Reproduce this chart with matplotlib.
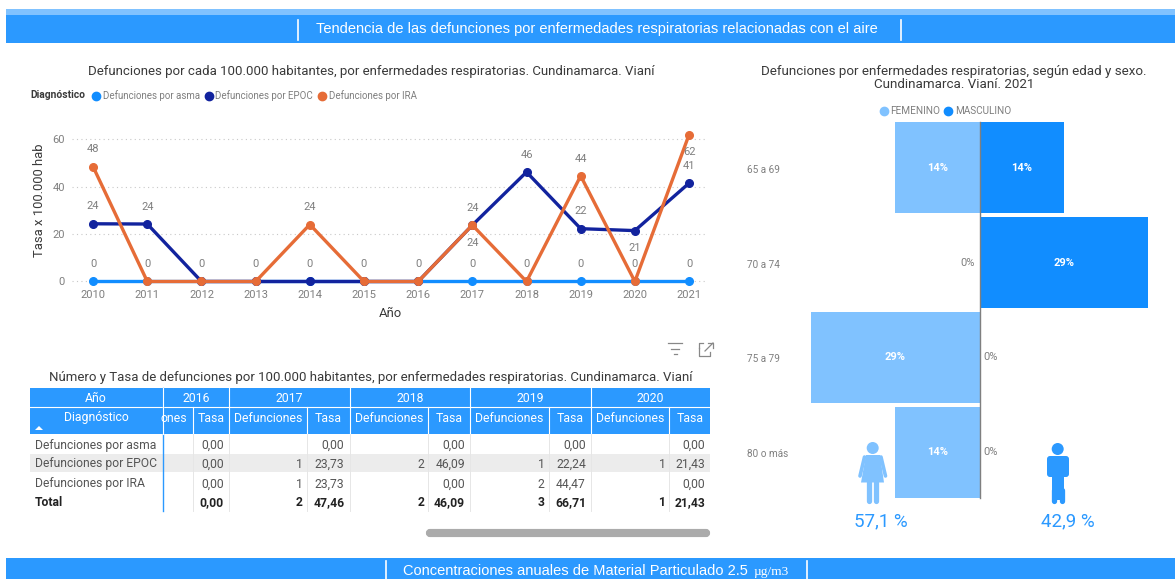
import matplotlib
matplotlib.use("Agg")
import matplotlib.pyplot as plt
from matplotlib.patches import Rectangle, Circle, Polygon, FancyBboxPatch

plt.rcParams['font.family'] = ['Roboto', 'DejaVu Sans']

W, H = 1175, 579

# data
years = [2010, 2011, 2012, 2013, 2014, 2015, 2016, 2017, 2018, 2019, 2020, 2021]
asma = [0, 0, 0, 0, 0, 0, 0, 0, 0, 0, 0, 0]
epoc = [24.3, 24.2, 0, 0, 0, 0, 0, 23.73, 46.09, 22.24, 21.43, 41.4]
ira = [48.3, 0, 0, 0, 24, 0, 0, 23.73, 0, 44.47, 0, 61.8]

ages = ["65 a 69", "70 a 74", "75 a 79", "80 o más"]
femenino = [14.3, 0, 28.6, 14.3]
masculino = [14.3, 28.6, 0, 0]
pct_fem = "57,1 %"
pct_masc = "42,9 %"

table_years = ["2016", "2017", "2018", "2019", "2020"]
table_rows = ["Defunciones por asma", "Defunciones por EPOC", "Defunciones por IRA", "Total"]
table_def = [["", "", "", "", ""],
             ["", "1", "2", "1", "1"],
             ["", "1", "", "2", ""],
             ["", "2", "2", "3", "1"]]
table_tasa = [["0,00", "0,00", "0,00", "0,00", "0,00"],
              ["0,00", "23,73", "46,09", "22,24", "21,43"],
              ["0,00", "23,73", "0,00", "44,47", "0,00"],
              ["0,00", "47,46", "46,09", "66,71", "21,43"]]

BLUE = "#2B99FF"
LIGHT = "#80C2FF"
MASC = "#118DFF"
C_ASMA = "#118DFF"
C_EPOC = "#12239E"
C_IRA = "#E66C37"
GREY = "#7f7f7f"
DARK = "#3a3a3a"


def axes_px(fig, left, top, right, bottom):
    return fig.add_axes([left / W, 1 - bottom / H, (right - left) / W, (bottom - top) / H])


fig = plt.figure(figsize=(W / 100, H / 100), dpi=100)

# pixel overlay for banners, table and icons
bg = fig.add_axes([0, 0, 1, 1], zorder=0)
bg.set_xlim(0, W)
bg.set_ylim(H, 0)
bg.axis("off")

over = fig.add_axes([0, 0, 1, 1], zorder=5)
over.set_xlim(0, W)
over.set_ylim(H, 0)
over.axis("off")
over.patch.set_alpha(0)

# banners
bg.add_patch(Rectangle((6, 9), W - 6, 6, color=LIGHT, lw=0))
bg.add_patch(Rectangle((6, 15), W - 6, 28, color=BLUE, lw=0))
bg.plot([298, 298], [20, 40], color="white", lw=1.2)
bg.plot([901, 901], [20, 40], color="white", lw=1.2)
bg.text(597, 29, "Tendencia de las defunciones por enfermedades respiratorias relacionadas con el aire",
        color="white", fontsize=10.5, family="Liberation Sans", ha="center", va="center")
bg.add_patch(Rectangle((6, 558), W - 6, 21, color=BLUE, lw=0))
bg.plot([386, 386], [561, 579], color="white", lw=1.2)
bg.plot([807, 807], [561, 579], color="white", lw=1.2)
bg.text(403, 571, "Concentraciones anuales de Material Particulado 2.5", color="white",
        fontsize=10.5, family="Liberation Sans", ha="left", va="center")
bg.text(754, 572, "µg/m3", color="white", fontsize=9.6, family="Liberation Serif", ha="left", va="center")

# line chart
ax = axes_px(fig, 72, 125, 708, 288)
ax.plot(years, asma, color=C_ASMA, lw=2.4, marker="o", ms=5.5, clip_on=False, zorder=3)
ax.plot(years, epoc, color=C_EPOC, lw=2.4, marker="o", ms=5.5, clip_on=False, zorder=4)
ax.plot(years, ira, color=C_IRA, lw=2.4, marker="o", ms=5.5, clip_on=False, zorder=5)
ax.set_xlim(2009.61, 2021.35)
ax.set_ylim(-2.74, 65.9)
ax.set_xticks(years)
ax.set_yticks([0, 20, 40, 60])
ax.tick_params(length=0, labelsize=8, labelcolor=GREY)
ax.tick_params(axis="x", pad=1.5)
ax.tick_params(axis="y", pad=5)
ax.grid(axis="y", color="#c8c8c8", lw=0.8, ls=(0, (1, 3)))
ax.set_axisbelow(True)
for s in ax.spines.values():
    s.set_visible(False)
ax.set_xlabel("Año", fontsize=9.4, color=DARK, labelpad=5)
ax.set_ylabel("Tasa x 100.000 hab", fontsize=9.4, color=DARK, labelpad=4.5, y=0.537)

for x, v in zip(years, asma):
    ax.annotate(f"{v:.0f}", (x, v), xytext=(0, 12.5), textcoords="offset points",
                ha="center", va="center", fontsize=8, color=GREY, zorder=6)
# labels above (+) or below (-) the point
epoc_side = {2010: 1, 2011: 1, 2017: 1, 2018: 1, 2019: 1, 2020: -1, 2021: 1}
ira_side = {2010: 1, 2014: 1, 2017: -1, 2019: 1, 2021: -1}
for series, side in ((epoc, epoc_side), (ira, ira_side)):
    for x, v in zip(years, series):
        if x in side:
            ax.annotate(f"{v:.0f}", (x, v), xytext=(0, 12.5 * side[x]), textcoords="offset points",
                        ha="center", va="center", fontsize=8, color=GREY, zorder=6)

bg.text(371, 71, "Defunciones por cada 100.000 habitantes, por enfermedades respiratorias. Cundinamarca. Vianí",
        fontsize=9.5, color=DARK, ha="center", va="center")
bg.text(30, 95.5, "Diagnóstico", fontsize=7.4, color=DARK, weight="bold", ha="left", va="center")
for cx, tx, c, lab in ((96, 103, C_ASMA, "Defunciones por asma"),
                       (209, 215, C_EPOC, "Defunciones por EPOC"),
                       (322, 329, C_IRA, "Defunciones por IRA")):
    bg.plot([cx], [95.5], "o", color=c, ms=6)
    bg.text(tx, 95.5, lab, fontsize=7, color=GREY, ha="left", va="center")

# icons above the table
for y, x0, x1 in ((343, 668, 682), (348.5, 671, 679), (354, 673.5, 676.5)):
    bg.plot([x0, x1], [y, y], color="#888888", lw=0.9)
bg.plot([699, 699, 710, 710], [348, 356, 356, 352], color="#888888", lw=0.9)
bg.plot([699, 699, 703], [348, 343, 343], color="#888888", lw=0.9)
bg.plot([708, 713, 713], [343, 343, 348], color="#888888", lw=0.9)
bg.plot([705, 713], [351, 343], color="#888888", lw=0.9)

# table
bg.text(370.5, 377, "Número y Tasa de defunciones por 100.000 habitantes, por enfermedades respiratorias. Cundinamarca. Vianí",
        fontsize=9.5, color=DARK, ha="center", va="center")
col_left = [163, 229, 349.5, 470, 591]
col_tasa = [192.5, 306.7, 428, 548.7, 669.4]
col_right = [229, 349.5, 470, 591, 710]
row_y = [445, 464, 484, 503]

bg.add_patch(Rectangle((30, 388), 680, 46, color=BLUE, lw=0))
bg.add_patch(Rectangle((30, 454), 680, 18, color="#ececec", lw=0))
bg.plot([30, 710], [407, 407], color="white", lw=0.8)
bg.plot([163, 163], [388, 511], color=BLUE, lw=1.0)
bg.text(96, 398, "Año", color="white", fontsize=8.8, ha="center", va="center")
bg.text(96, 418, "Diagnóstico", color="white", fontsize=8.8, ha="center", va="center")
bg.add_patch(Polygon([[35, 430], [43, 430], [39, 426]], color="white", lw=0))

for i, yr in enumerate(table_years):
    l, t, r = col_left[i], col_tasa[i], col_right[i]
    bg.plot([l, l], [388, 434], color="white", lw=0.8)
    bg.plot([t, t], [407, 434], color="white", lw=0.8)
    bg.plot([t, t], [434, 511], color="#e6e6e6", lw=0.7)
    if i > 0:
        bg.plot([l, l], [434, 511], color="#e6e6e6", lw=0.7)
    bg.text((l + r) / 2, 398, yr, color="white", fontsize=8.8, ha="center", va="center")
    bg.text((t + r) / 2, 418, "Tasa", color="white", fontsize=8.8, ha="center", va="center")
    if i > 0:
        bg.text((l + t) / 2, 418, "Defunciones", color="white", fontsize=8.8, ha="center", va="center")
# clipped header of the 2016 column
bg.text(187, 418, "ones", color="white", fontsize=8.8, ha="right", va="center")

for j, name in enumerate(table_rows):
    bold = name == "Total"
    w = "bold" if bold else "normal"
    c = "#222222" if bold else "#555555"
    bg.text(35, row_y[j], name, fontsize=8.7, color=c, weight=w, ha="left", va="center")
    for i in range(len(table_years)):
        bg.text(col_right[i] - 5, row_y[j], table_tasa[j][i], fontsize=8.7, color=c, weight=w, ha="right", va="center")
        bg.text(col_tasa[i] - 4, row_y[j], table_def[j][i], fontsize=8.7, color=c, weight=w, ha="right", va="center")

bg.add_patch(FancyBboxPatch((428, 531), 280, 4, boxstyle="round,pad=0,rounding_size=2", mutation_aspect=1,
                            ec="#ababab", fc="#ababab", lw=3))

# pyramid
ax2 = axes_px(fig, 740, 120.5, 1175, 499.5)
pos = list(range(len(ages)))
ax2.barh(pos, [-v for v in femenino], height=0.96, color=LIGHT, lw=0)
ax2.barh(pos, masculino, height=0.96, color=MASC, lw=0)
scale = 5.9
ax2.set_xlim(-(979.5 - 740) / scale, (1175 - 979.5) / scale)
ax2.set_ylim(3.5, -0.5)
ax2.axis("off")
ax2.plot([0, 0], [-0.48, 3.48], color=GREY, lw=1.0)
for p, age, f, m in zip(pos, ages, femenino, masculino):
    bg.text(747, 170 + p * 94.6, age, fontsize=7.2, color=GREY, ha="left", va="center")
    if f > 0:
        ax2.text(-f / 2, p, f"{f:.0f}%", color="white", fontsize=8, weight="bold", ha="center", va="center")
    else:
        ax2.annotate("0%", (0, p), xytext=(-3, 0), textcoords="offset points", color=GREY,
                     fontsize=8, ha="right", va="center")
    if m > 0:
        ax2.text(m / 2, p, f"{m:.0f}%", color="white", fontsize=8, weight="bold", ha="center", va="center")
    else:
        ax2.annotate("0%", (0, p), xytext=(3, 0), textcoords="offset points", color=GREY,
                     fontsize=8, ha="left", va="center")

bg.text(954, 78, "Defunciones por enfermedades respiratorias, según edad y sexo.\nCundinamarca. Vianí. 2021",
        fontsize=9.6, color=DARK, ha="center", va="center", linespacing=1.1)
bg.plot([884], [111], "o", color=LIGHT, ms=6)
bg.text(890, 111, "FEMENINO", fontsize=7.2, color=GREY, ha="left", va="center")
bg.plot([948], [111], "o", color=MASC, ms=6)
bg.text(955, 111, "MASCULINO", fontsize=7.2, color=GREY, ha="left", va="center")

# person icons
over.add_patch(Circle((872.7, 448), 6, color=LIGHT, lw=0))
over.add_patch(Polygon([[866, 455], [880, 455], [884, 482.5], [861, 482.5]], color=LIGHT, lw=0))
over.plot([864.5, 860], [457, 476], color=LIGHT, lw=2.6, solid_capstyle="round")
over.plot([881, 885.5], [457, 476], color=LIGHT, lw=2.6, solid_capstyle="round")
over.plot([869, 869], [482, 501], color=LIGHT, lw=3.8, solid_capstyle="round")
over.plot([876, 876], [482, 501], color=LIGHT, lw=3.8, solid_capstyle="round")
over.add_patch(Circle((1057.7, 449), 6, color=BLUE, lw=0))
over.add_patch(FancyBboxPatch((1047, 456), 22, 21, boxstyle="round,pad=0,rounding_size=3", color=BLUE, lw=0))
over.add_patch(Rectangle((1052, 470), 12, 30, color=BLUE, lw=0))
over.plot([1054, 1054], [490, 501], color=BLUE, lw=3.8, solid_capstyle="round")
over.plot([1062, 1062], [490, 501], color=BLUE, lw=3.8, solid_capstyle="round")
over.text(881, 521, pct_fem, color=BLUE, fontsize=13.5, ha="center", va="center")
over.text(1068, 521, pct_masc, color=BLUE, fontsize=13.5, ha="center", va="center")

fig.savefig("out.png", dpi=100)
